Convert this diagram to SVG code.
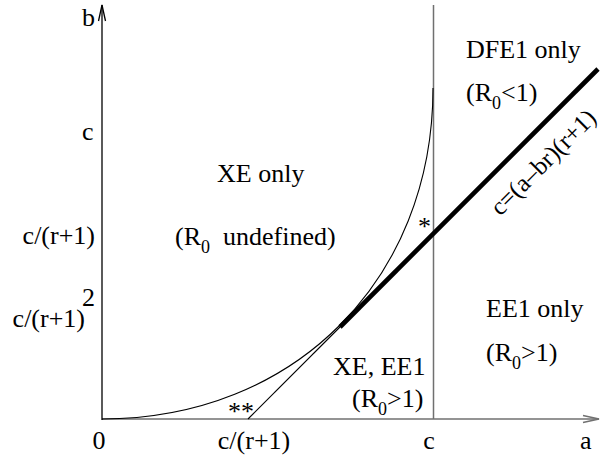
<svg xmlns="http://www.w3.org/2000/svg" width="603" height="460" viewBox="0 0 603 460">
<style>
text{font-family:"Liberation Serif","Times New Roman",serif;font-size:26px;fill:#000}
.sub{font-size:18px}
.rot{font-size:25px}
.ax{stroke:#000;stroke-width:1.3;fill:none}
.gr{stroke:#707070;stroke-width:1.5;fill:none}
.thin{stroke:#000;stroke-width:1.1;fill:none}
.thick{stroke:#000;stroke-width:4.6;fill:none}
</style>
<rect width="603" height="460" fill="#fff"/>
<g id="axes">
<path class="gr" d="M102 419H599"/>
<path class="gr" d="M583 415.5L599 419L583 422.5"/>
<path class="gr" d="M433.5 5V419"/>
<path class="ax" d="M102 420V5"/>
<path class="ax" d="M98.5 21L102 5L105.5 21"/>
</g>
<g id="connectors">
<path class="thin" d="M102 419C294 419 433 280 433 88"/>
<path class="thin" d="M248 419L341 326"/>
<path class="thick" d="M340 327L598 69"/>
</g>
<g id="labels">
<text x="82" y="26">b</text>
<text x="82" y="140">c</text>
<text x="95" y="244" text-anchor="end">c/(r+1)</text>
<text x="85" y="327" text-anchor="end">c/(r+1)</text>
<text x="82" y="306">2</text>
<text x="99" y="449" text-anchor="middle">0</text>
<text x="254" y="449" text-anchor="middle">c/(r+1)</text>
<text x="429" y="449" text-anchor="middle">c</text>
<text x="580" y="449">a</text>
<text x="217" y="182">XE only</text>
<text x="175" y="245">(R<tspan class="sub" dy="8">0</tspan><tspan dy="-8" x="223">undefined)</tspan></text>
<text x="333" y="375">XE, EE1</text>
<text x="352" y="407">(R<tspan class="sub" dy="8">0</tspan><tspan dy="-8">&gt;1)</tspan></text>
<text x="486" y="317">EE1 only</text>
<text x="486" y="361">(R<tspan class="sub" dy="8">0</tspan><tspan dy="-8">&gt;1)</tspan></text>
<text x="466" y="58">DFE1 only</text>
<text x="466" y="101">(R<tspan class="sub" dy="8">0</tspan><tspan dy="-8">&lt;1)</tspan></text>
<text x="418" y="235">*</text>
<text x="228" y="420">**</text>
<text class="rot" transform="translate(549,168) rotate(-45)" text-anchor="middle">c=(a–br)(r+1)</text>
</g>
</svg>
